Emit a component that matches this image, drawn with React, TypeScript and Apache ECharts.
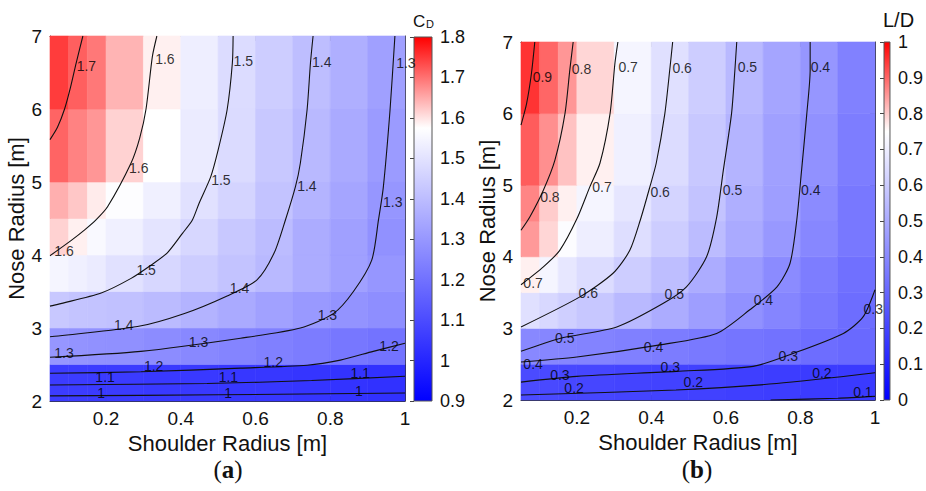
import React, { useEffect, useRef } from 'react';
import * as echarts from 'echarts';

// ---------- grid of the pseudocolour cells ----------
const xEdges = [0.05, 0.1, 0.15, 0.2, 0.3, 0.4, 0.5, 0.6, 0.7, 0.8, 0.9, 1.0];
const yEdges = [2, 2.5, 3, 3.5, 4, 4.5, 5, 6, 7];
const xTicks = [0.2, 0.4, 0.6, 0.8, 1];
const colorStops = ['#0000ff', '#5555ff', '#aaaaff', '#ffffff', '#ff0000'];

// C_D cell values, rows bottom (y=2) to top (y=6), columns left to right
const cdValues = [
  [1.06, 1.06, 1.055, 1.055, 1.05, 1.05, 1.045, 1.045, 1.04, 1.035, 1.03],
  [1.297, 1.29, 1.285, 1.28, 1.27, 1.26, 1.25, 1.24, 1.228, 1.215, 1.204],
  [1.43, 1.42, 1.415, 1.41, 1.395, 1.373, 1.35, 1.327, 1.305, 1.29, 1.275],
  [1.549, 1.535, 1.522, 1.496, 1.469, 1.443, 1.416, 1.39, 1.355, 1.324, 1.297],
  [1.615, 1.588, 1.56, 1.535, 1.503, 1.469, 1.43, 1.398, 1.355, 1.324, 1.284],
  [1.646, 1.624, 1.593, 1.57, 1.535, 1.496, 1.46, 1.416, 1.376, 1.337, 1.297],
  [1.712, 1.685, 1.668, 1.615, 1.575, 1.522, 1.48, 1.43, 1.39, 1.35, 1.31],
  [1.747, 1.716, 1.694, 1.641, 1.588, 1.53, 1.482, 1.443, 1.403, 1.363, 1.324],
];

// L/D cell values, rows bottom (y=2) to top (y=6)
const ldValues = [
  [0.22, 0.215, 0.21, 0.205, 0.2, 0.195, 0.19, 0.185, 0.18, 0.175, 0.17],
  [0.4, 0.395, 0.39, 0.385, 0.375, 0.365, 0.355, 0.345, 0.335, 0.32, 0.31],
  [0.66, 0.635, 0.61, 0.585, 0.545, 0.505, 0.465, 0.425, 0.39, 0.355, 0.32],
  [0.765, 0.72, 0.68, 0.647, 0.603, 0.56, 0.506, 0.456, 0.41, 0.368, 0.33],
  [0.85, 0.79, 0.74, 0.7, 0.653, 0.603, 0.553, 0.5, 0.447, 0.397, 0.353],
  [0.87, 0.8, 0.765, 0.72, 0.676, 0.624, 0.574, 0.515, 0.465, 0.41, 0.353],
  [0.91, 0.86, 0.81, 0.765, 0.705, 0.647, 0.588, 0.53, 0.47, 0.426, 0.368],
  [0.95, 0.9, 0.853, 0.79, 0.72, 0.66, 0.603, 0.544, 0.485, 0.44, 0.38],
];

// ---------- contour lines (x, y) ----------
const cd17 = [[0.138, 7], [0.12, 6.63], [0.105, 6.3], [0.089, 6.0], [0.07, 5.75], [0.05, 5.58]];
const cd16 = [[0.336, 7], [0.324, 6.72], [0.307, 6.0], [0.29, 5.6], [0.267, 5.26], [0.204, 4.66], [0.173, 4.48], [0.142, 4.34], [0.107, 4.2], [0.05, 3.99]];
const cd15 = [[0.54, 7], [0.538, 6.63], [0.524, 5.99], [0.5, 5.44], [0.48, 5.07], [0.449, 4.71], [0.431, 4.48], [0.405, 4.3], [0.364, 4.03], [0.32, 3.86], [0.267, 3.68], [0.187, 3.48], [0.05, 3.3]];
const cd14 = [[0.754, 7], [0.747, 6.63], [0.738, 5.99], [0.72, 5.26], [0.707, 4.94], [0.68, 4.48], [0.65, 4.03], [0.604, 3.66], [0.524, 3.44], [0.41, 3.2], [0.284, 3.02], [0.05, 2.88]];
const cd13 = [[0.973, 7], [0.96, 5.99], [0.942, 4.93], [0.929, 4.48], [0.911, 3.93], [0.862, 3.5], [0.809, 3.2], [0.72, 3.0], [0.56, 2.86], [0.293, 2.68], [0.05, 2.6]];
const cd12 = [[0.05, 2.38], [0.293, 2.4], [0.56, 2.45], [0.738, 2.49], [0.827, 2.56], [0.915, 2.68], [1.0, 2.79]];
const cd11 = [[0.05, 2.22], [0.47, 2.24], [0.75, 2.28], [1.0, 2.34]];
const cd10 = [[0.05, 2.07], [0.5, 2.085], [1.0, 2.11]];
const cdContours = [cd17, cd16, cd15, cd14, cd13, cd12, cd11, cd10];

const ld09 = [[0.087, 7], [0.078, 6.56], [0.065, 6.14], [0.05, 5.84]];
const ld08 = [[0.19, 7], [0.181, 6.61], [0.168, 6.0], [0.141, 5.35], [0.11, 4.93], [0.074, 4.56], [0.05, 4.37]];
const ld07 = [[0.31, 7], [0.302, 6.7], [0.289, 6.0], [0.262, 5.31], [0.235, 4.98], [0.2, 4.53], [0.154, 4.09], [0.11, 3.86], [0.05, 3.61]];
const ld06 = [[0.457, 7], [0.45, 6.65], [0.436, 6.0], [0.413, 5.31], [0.396, 4.98], [0.37, 4.51], [0.342, 4.09], [0.297, 3.77], [0.208, 3.44], [0.05, 3.02]];
const ld05 = [[0.629, 7], [0.624, 6.61], [0.615, 6.0], [0.593, 5.21], [0.575, 4.55], [0.548, 4.0], [0.494, 3.58], [0.432, 3.35], [0.307, 3.02], [0.154, 2.86], [0.05, 2.68]];
const ld04 = [[0.826, 7], [0.826, 6.61], [0.817, 6.0], [0.803, 5.21], [0.79, 4.51], [0.772, 3.91], [0.737, 3.58], [0.664, 3.26], [0.575, 2.93], [0.423, 2.77], [0.2, 2.6], [0.05, 2.53]];
const ld03 = [[1.0, 3.54], [0.968, 3.16], [0.915, 2.93], [0.78, 2.65], [0.673, 2.47], [0.466, 2.4], [0.2, 2.33], [0.05, 2.25]];
const ld02 = [[0.05, 2.07], [0.466, 2.14], [0.736, 2.23], [1.0, 2.38]];
const ld01 = [[0.72, 2.0], [0.9, 2.025], [1.0, 2.05]];
const ldContours = [ld09, ld08, ld07, ld06, ld05, ld04, ld03, ld02, ld01];

// ---------- contour labels (x, y, text) ----------
const cdLabels = [
  [0.12, 6.59, '1.7'], [0.33, 6.68, '1.6'], [0.26, 5.19, '1.6'], [0.06, 4.05, '1.6'],
  [0.54, 6.66, '1.5'], [0.48, 5.03, '1.5'], [0.28, 3.79, '1.5'],
  [0.75, 6.64, '1.4'], [0.71, 4.95, '1.4'], [0.53, 3.55, '1.4'], [0.22, 3.04, '1.4'],
  [0.975, 6.63, '1.3'], [0.94, 4.72, '1.3'], [0.765, 3.18, '1.3'], [0.42, 2.81, '1.3'], [0.06, 2.66, '1.3'],
  [0.3, 2.48, '1.2'], [0.62, 2.53, '1.2'], [0.93, 2.75, '1.2'],
  [0.17, 2.325, '1.1'], [0.5, 2.325, '1.1'], [0.853, 2.39, '1.1'],
  [0.175, 2.11, '1'], [0.515, 2.11, '1'], [0.865, 2.14, '1'],
];
const ldLabels = [
  [0.08, 6.51, '0.9'], [0.185, 6.62, '0.8'], [0.1, 4.84, '0.8'],
  [0.31, 6.65, '0.7'], [0.24, 4.97, '0.7'], [0.055, 3.63, '0.7'],
  [0.455, 6.64, '0.6'], [0.396, 4.9, '0.6'], [0.203, 3.49, '0.6'],
  [0.63, 6.65, '0.5'], [0.59, 4.93, '0.5'], [0.434, 3.48, '0.5'], [0.14, 2.87, '0.5'],
  [0.826, 6.65, '0.4'], [0.8, 4.93, '0.4'], [0.673, 3.4, '0.4'], [0.378, 2.74, '0.4'], [0.055, 2.5, '0.4'],
  [0.968, 3.27, '0.3'], [0.74, 2.61, '0.3'], [0.423, 2.46, '0.3'], [0.127, 2.35, '0.3'],
  [0.165, 2.17, '0.2'], [0.485, 2.25, '0.2'], [0.83, 2.38, '0.2'],
  [0.94, 2.11, '0.1'],
];

const cdRange = [0.9, 1.8];
const ldRange = [0, 1];

const SANS = 'Liberation Sans, Arial, Helvetica, sans-serif';
const SERIF = 'Liberation Serif, Times New Roman, serif';
const INK = '#111111';
const FRAME = '#333333';

function buildCells(values: number[][]) {
  const out: number[][] = [];
  for (let r = 0; r < values.length; r++) {
    for (let c = 0; c < values[r].length; c++) {
      out.push([xEdges[c], xEdges[c + 1], yEdges[r], yEdges[r + 1], values[r][c]]);
    }
  }
  return out;
}

const cellRender = (params: any, api: any) => {
  const p0 = api.coord([api.value(0), api.value(2)]);
  const p1 = api.coord([api.value(1), api.value(3)]);
  const c = api.visual('color');
  return {
    type: 'rect',
    shape: { x: p0[0], y: p1[1], width: p1[0] - p0[0], height: p0[1] - p1[1] },
    style: { fill: c, stroke: c, lineWidth: 0.6 },
  };
};

const barRender = (params: any, api: any) => {
  const p0 = api.coord([api.value(0), api.value(2)]);
  const p1 = api.coord([api.value(1), api.value(3)]);
  return {
    type: 'rect',
    shape: { x: p0[0], y: p1[1], width: p1[0] - p0[0], height: p0[1] - p1[1] },
    style: {
      fill: {
        type: 'linear', x: 0, y: 1, x2: 0, y2: 0,
        colorStops: colorStops.map((col, i) => ({ offset: i / (colorStops.length - 1), color: col })),
      },
      stroke: '#555555',
      lineWidth: 1,
    },
  };
};

function plotAxes(gridIndex: number) {
  const tickStyle = { show: true, inside: true, length: 5, lineStyle: { color: FRAME } };
  const lineStyle = { show: true, lineStyle: { color: FRAME, width: 1 } };
  const xBottom = {
    type: 'value', gridIndex, min: 0.05, max: 1, position: 'bottom',
    axisLine: lineStyle,
    axisTick: { ...tickStyle, customValues: xTicks },
    axisLabel: { customValues: xTicks, fontSize: 19, color: INK, fontFamily: SANS, margin: 8 },
    splitLine: { show: false },
    name: 'Shoulder Radius [m]', nameLocation: 'middle', nameGap: 27,
    nameTextStyle: { fontSize: 22, color: INK, fontFamily: SANS },
  };
  const xTop = {
    type: 'value', gridIndex, min: 0.05, max: 1, position: 'top',
    axisLine: lineStyle,
    axisTick: { ...tickStyle, customValues: xTicks },
    axisLabel: { show: false, customValues: xTicks },
    splitLine: { show: false },
  };
  const yLeft = {
    type: 'value', gridIndex, min: 2, max: 7, interval: 1, position: 'left',
    axisLine: lineStyle, axisTick: tickStyle,
    axisLabel: { fontSize: 19, color: INK, fontFamily: SANS, margin: 8 },
    splitLine: { show: false },
    name: 'Nose Radius [m]', nameLocation: 'middle', nameGap: 19,
    nameTextStyle: { fontSize: 22, color: INK, fontFamily: SANS },
  };
  const yRight = {
    type: 'value', gridIndex, min: 2, max: 7, interval: 1, position: 'right',
    axisLine: lineStyle, axisTick: tickStyle,
    axisLabel: { show: false },
    splitLine: { show: false },
  };
  return { x: [xBottom, xTop], y: [yLeft, yRight] };
}

function barAxes(gridIndex: number, range: number[]) {
  const x = { type: 'value', gridIndex, min: 0, max: 1, show: false };
  const y = {
    type: 'value', gridIndex, min: range[0], max: range[1], interval: 0.1, position: 'right',
    axisLine: { show: false },
    axisTick: { show: true, inside: true, length: 4, lineStyle: { color: '#444' } },
    axisLabel: { fontSize: 18, color: INK, fontFamily: SANS, margin: 8 },
    splitLine: { show: false },
  };
  return { x, y };
}

const labelRich = {
  p: { fontSize: 25, fontFamily: SERIF, fill: INK },
  b: { fontSize: 25, fontFamily: SERIF, fontWeight: 'bold', fill: INK },
};

export default function App() {
  const ref = useRef<HTMLDivElement>(null);
  useEffect(() => {
    if (!ref.current) return;
    const chart = echarts.init(ref.current, undefined, { renderer: 'svg' });

    const a = plotAxes(0);
    const b = barAxes(1, cdRange);
    const c = plotAxes(2);
    const d = barAxes(3, ldRange);
    const xAxis = [a.x[0], a.x[1], b.x, c.x[0], c.x[1], d.x];
    const yAxis = [a.y[0], a.y[1], b.y, c.y[0], c.y[1], d.y];

    const series: any[] = [];
    series.push({
      type: 'custom', xAxisIndex: 0, yAxisIndex: 0, renderItem: cellRender,
      encode: { x: [0, 1], y: [2, 3] }, data: buildCells(cdValues), silent: true, z: 1,
    });
    series.push({
      type: 'custom', xAxisIndex: 3, yAxisIndex: 3, renderItem: cellRender,
      encode: { x: [0, 1], y: [2, 3] }, data: buildCells(ldValues), silent: true, z: 1,
    });
    series.push({
      type: 'custom', xAxisIndex: 2, yAxisIndex: 2, renderItem: barRender,
      encode: { x: [0, 1], y: [2, 3] }, data: [[0, 1, cdRange[0], cdRange[1]]], silent: true, z: 1,
    });
    series.push({
      type: 'custom', xAxisIndex: 5, yAxisIndex: 5, renderItem: barRender,
      encode: { x: [0, 1], y: [2, 3] }, data: [[0, 1, ldRange[0], ldRange[1]]], silent: true, z: 1,
    });

    const addContours = (lines: number[][][], xi: number, yi: number) => {
      lines.forEach((pts) => {
        series.push({
          type: 'line', xAxisIndex: xi, yAxisIndex: yi, data: pts, showSymbol: false, symbol: 'none',
          lineStyle: { color: '#111111', width: 1.1 }, smooth: 0.25, silent: true, z: 3, clip: true,
        });
      });
    };
    addContours(cdContours, 0, 0);
    addContours(ldContours, 3, 3);

    const addLabels = (labels: any[], xi: number, yi: number) => {
      series.push({
        type: 'scatter', xAxisIndex: xi, yAxisIndex: yi, data: labels, symbolSize: 1,
        itemStyle: { color: 'transparent' }, silent: true, z: 4, clip: false,
        label: {
          show: true, position: 'right', distance: 0, formatter: (p: any) => p.value[2],
          fontSize: 14, lineHeight: 14, color: '#000000', fontFamily: SANS,
        },
      });
    };
    addLabels(cdLabels, 0, 0);
    addLabels(ldLabels, 3, 3);

    chart.setOption({
      animation: false,
      backgroundColor: '#ffffff',
      grid: [
        { left: 50, top: 36, width: 355, height: 365 },
        { left: 414, top: 37, width: 18, height: 364 },
        { left: 521, top: 42, width: 354, height: 358 },
        { left: 884, top: 42, width: 18, height: 358 },
      ],
      xAxis,
      yAxis,
      visualMap: [
        { type: 'continuous', show: false, seriesIndex: 0, dimension: 4, min: cdRange[0], max: cdRange[1], inRange: { color: colorStops } },
        { type: 'continuous', show: false, seriesIndex: 1, dimension: 4, min: ldRange[0], max: ldRange[1], inRange: { color: colorStops } },
      ],
      graphic: [
        { type: 'text', x: 413, y: 21, style: { text: 'C', fontSize: 17, fill: INK, fontFamily: SANS, textVerticalAlign: 'middle' } },
        { type: 'text', x: 426, y: 24, style: { text: 'D', fontSize: 11, fill: INK, fontFamily: SANS, textVerticalAlign: 'middle' } },
        { type: 'text', x: 883, y: 20, style: { text: 'L/D', fontSize: 20, fill: INK, fontFamily: SANS, textVerticalAlign: 'middle' } },
        {
          type: 'text', x: 228, y: 469,
          style: { text: '{p|(}{b|a}{p|)}', textAlign: 'center', textVerticalAlign: 'middle', rich: labelRich },
        },
        {
          type: 'text', x: 697, y: 469,
          style: { text: '{p|(}{b|b}{p|)}', textAlign: 'center', textVerticalAlign: 'middle', rich: labelRich },
        },
      ],
      series,
    });
    return () => chart.dispose();
  }, []);
  return (
    <div
      ref={ref}
      style={{ position: 'fixed', left: 0, top: 0, width: 926, height: 491, background: '#ffffff' }}
    />
  );
}
